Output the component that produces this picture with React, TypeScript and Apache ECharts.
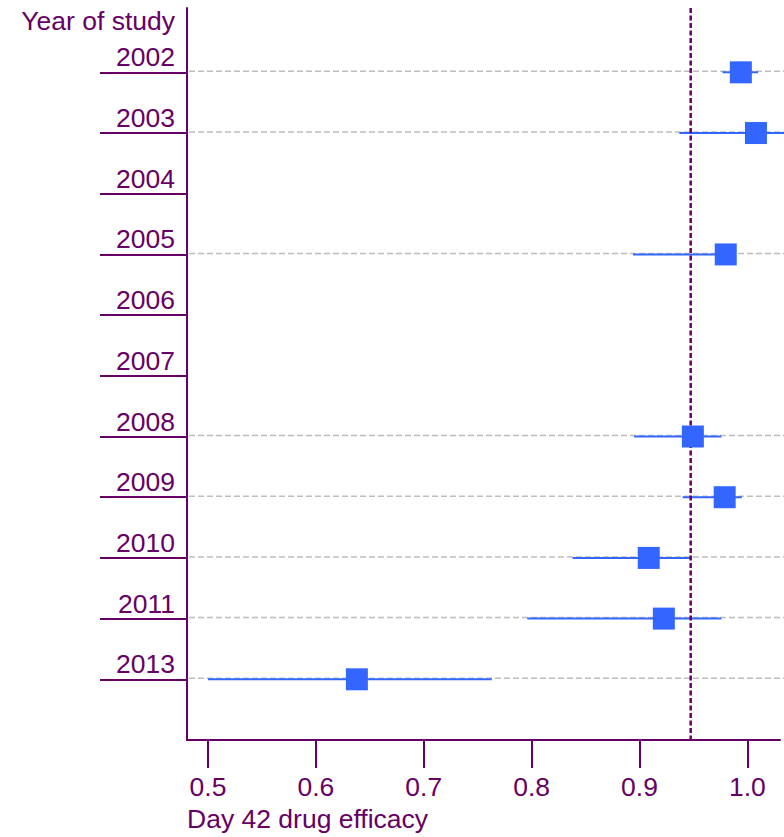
import React, { useEffect, useRef } from 'react';
import * as echarts from 'echarts';

// Study years shown on the vertical axis (top to bottom)
const years = ['2002', '2003', '2004', '2005', '2006', '2007', '2008', '2009', '2010', '2011', '2013'];
// Day 42 efficacy estimate per year (null = no study that year)
const efficacy = [0.994, 1.008, null, 0.98, null, null, 0.9495, 0.979, 0.9086, 0.9226, 0.638];
// Lower / upper bounds of the interval
const lowerCI = [0.977, 0.937, null, 0.894, null, null, 0.895, 0.94, 0.838, 0.796, 0.5];
const upperCI = [1.01, 1.04, null, 0.985, null, null, 0.976, 0.995, 0.9475, 0.976, 0.763];
// Reference (pooled) efficacy
const pooledEfficacy = 0.9475;
// Horizontal axis tick labels
const xTicks = [0.5, 0.6, 0.7, 0.8, 0.9, 1.0];

const PURPLE = '#660066';
const BLUE = '#3366ff';
const GRID_GREY = '#bdbdbd';
const FONT = '"Liberation Sans", Arial, Helvetica, sans-serif';
const FONT_SIZE = 26.5;

export default function App() {
  const ref = useRef<HTMLDivElement>(null);

  useEffect(() => {
    if (!ref.current) return;
    const chart = echarts.init(ref.current, null, { renderer: 'svg' });
    const rows = years.map((_, i) => i);
    const observed = rows.filter((i) => efficacy[i] != null);

    chart.setOption({
      animation: false,
      grid: { left: 187, top: 8, right: 4, bottom: 97, containLabel: false },
      xAxis: {
        type: 'value',
        min: 0.4805,
        max: 1.0303,
        axisLine: { show: true, onZero: false, lineStyle: { color: PURPLE, width: 2 } },
        axisTick: {
          show: true,
          length: 28,
          customValues: xTicks,
          lineStyle: { color: PURPLE, width: 2 },
        },
        axisLabel: {
          customValues: xTicks,
          formatter: (v: number) => v.toFixed(1),
          margin: 33,
          color: PURPLE,
          fontSize: FONT_SIZE,
          fontFamily: FONT,
        },
        splitLine: { show: false },
      },
      yAxis: {
        type: 'value',
        inverse: true,
        min: -1.06,
        max: 11,
        axisLine: { show: true, onZero: false, lineStyle: { color: PURPLE, width: 2 } },
        axisTick: {
          show: true,
          length: 87,
          customValues: rows,
          lineStyle: { color: PURPLE, width: 2 },
        },
        axisLabel: {
          customValues: rows,
          formatter: (v: number) => years[Math.round(v)] ?? '',
          margin: 12,
          verticalAlign: 'bottom',
          lineHeight: 30,
          color: PURPLE,
          fontSize: FONT_SIZE,
          fontFamily: FONT,
        },
        splitLine: { show: false },
      },
      graphic: [
        {
          type: 'text',
          x: 175,
          y: 21,
          style: {
            text: 'Year of study',
            fill: PURPLE,
            fontSize: FONT_SIZE,
            fontFamily: FONT,
            align: 'right',
            verticalAlign: 'middle',
          },
        },
        {
          type: 'text',
          x: 187,
          y: 819,
          style: {
            text: 'Day 42 drug efficacy',
            fill: PURPLE,
            fontSize: FONT_SIZE,
            fontFamily: FONT,
            align: 'left',
            verticalAlign: 'middle',
          },
        },
      ],
      series: [
        // dashed guide lines for years that have a study
        {
          type: 'custom',
          z: 1,
          silent: true,
          encode: { y: 0 },
          data: observed.map((i) => [i]),
          renderItem: (params: any, api: any) => {
            const cs = params.coordSys;
            const y = api.coord([xTicks[0], api.value(0)])[1];
            return {
              type: 'line',
              shape: { x1: cs.x + 2, y1: y - 1, x2: cs.x + cs.width + 10, y2: y - 1 },
              style: { stroke: GRID_GREY, lineWidth: 1.5, lineDash: [6, 3] },
            };
          },
        },
        // interval bars
        {
          type: 'custom',
          z: 2,
          encode: { x: [1, 2], y: 0 },
          data: observed.map((i) => [i, lowerCI[i], upperCI[i]]),
          renderItem: (_params: any, api: any) => {
            const row = api.value(0);
            const a = api.coord([api.value(1), row]);
            const b = api.coord([api.value(2), row]);
            return {
              type: 'line',
              shape: { x1: a[0], y1: a[1], x2: b[0], y2: b[1] },
              style: { stroke: BLUE, lineWidth: 2 },
            };
          },
        },
        // pooled reference line
        {
          type: 'custom',
          z: 3,
          silent: true,
          encode: { x: 0 },
          data: [[pooledEfficacy]],
          renderItem: (params: any, api: any) => {
            const cs = params.coordSys;
            const x = api.coord([api.value(0), 0])[0];
            return {
              type: 'line',
              shape: { x1: x, y1: cs.y, x2: x, y2: cs.y + cs.height },
              style: { stroke: PURPLE, lineWidth: 2.5, lineDash: [5, 2.5] },
            };
          },
        },
        // point estimates
        {
          type: 'scatter',
          z: 4,
          symbol: 'rect',
          symbolSize: 22,
          itemStyle: { color: BLUE, opacity: 1 },
          data: observed.map((i) => [efficacy[i], i]),
        },
      ],
    });

    return () => chart.dispose();
  }, []);

  return (
    <div
      ref={ref}
      style={{ position: 'fixed', left: 0, top: 0, width: 784, height: 837, background: '#fff' }}
    />
  );
}
